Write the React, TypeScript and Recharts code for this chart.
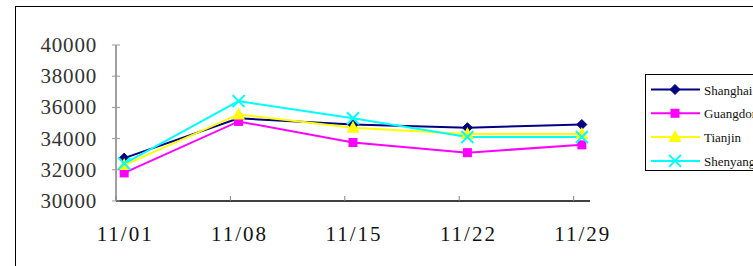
import { LineChart, Line, XAxis, YAxis } from "recharts";

const dates = ["11/01", "11/08", "11/15", "11/22", "11/29"];
// day offsets inside a 29-day date axis (points sit at the middle of each day)
const dayPos = [0.5, 7.5, 14.5, 21.5, 28.5];
const shanghai = [32750, 35300, 34900, 34700, 34900];
const guangdong = [31800, 35100, 33750, 33100, 33600];
const tianjin = [32300, 35550, 34700, 34300, 34300];
const shenyang = [32400, 36400, 35300, 34100, 34100];
const yTicks = [30000, 32000, 34000, 36000, 38000, 40000];

const data = dates.map((d, i) => ({
  date: d,
  day: dayPos[i],
  Shanghai: shanghai[i],
  Guangdong: guangdong[i],
  Tianjin: tianjin[i],
  Shenyang: shenyang[i],
}));

const FONT = '"Liberation Serif", "DejaVu Serif", serif';
const HALF_DAY = 474 / 29 / 2;

const Diamond = ({ cx, cy, color }: any) => (
  <polygon points={`${cx},${cy - 5} ${cx + 5},${cy} ${cx},${cy + 5} ${cx - 5},${cy}`} fill={color} stroke={color} />
);
const Square = ({ cx, cy, color }: any) => (
  <rect x={cx - 4.5} y={cy - 4.5} width={9} height={9} fill={color} />
);
const Triangle = ({ cx, cy, color }: any) => (
  <polygon points={`${cx},${cy - 7} ${cx + 6.5},${cy + 5} ${cx - 6.5},${cy + 5}`} fill={color} />
);
const Cross = ({ cx, cy, color }: any) => (
  <g stroke={color} strokeWidth={2}>
    <line x1={cx - 6} y1={cy - 6} x2={cx + 6} y2={cy + 6} />
    <line x1={cx - 6} y1={cy + 6} x2={cx + 6} y2={cy - 6} />
  </g>
);

const series = [
  { key: "Shanghai", color: "#000080", Marker: Diamond },
  { key: "Guangdong", color: "#FF00FF", Marker: Square },
  { key: "Tianjin", color: "#FFFF00", Marker: Triangle },
  { key: "Shenyang", color: "#00FFFF", Marker: Cross },
];

function DateTick({ x, y, index }: any) {
  return (
    <g>
      <line x1={x - HALF_DAY} y1={y - 5} x2={x - HALF_DAY} y2={y} stroke="#808080" strokeWidth={1} />
      <text x={x + 1} y={y + 40} textAnchor="middle" fontSize={21} letterSpacing={2} fill="#111" fontFamily={FONT}>
        {dates[index]}
      </text>
    </g>
  );
}

function ValueTick({ x, y, payload }: any) {
  return (
    <g>
      <line x1={116 - 4} y1={y} x2={116 + 4} y2={y} stroke="#999" strokeWidth={1} />
      <text x={x} y={y + 7} textAnchor="end" fontSize={21} letterSpacing={0.8} fill="#333" fontFamily={FONT}>
        {payload.value}
      </text>
    </g>
  );
}

function LegendBox() {
  return (
    <svg width={110} height={98} style={{ position: "absolute", left: 645, top: 74, overflow: "visible" }}>
      <rect x={0.5} y={0.5} width={130} height={96} fill="#fff" stroke="#000" strokeWidth={1} />
      {series.map((s, i) => {
        const cy = 15.5 + i * 23.8;
        return (
          <g key={s.key}>
            <line x1={6} y1={cy} x2={55} y2={cy} stroke={s.color} strokeWidth={2} />
            <s.Marker cx={30} cy={cy} color={s.color} />
            <text x={59} y={cy + 5} fontSize={13} fill="#111" fontFamily={FONT}>
              {s.key}
            </text>
          </g>
        );
      })}
    </svg>
  );
}

export default function App() {
  return (
    <div style={{ position: "absolute", left: 0, top: 0, width: 753, height: 266, overflow: "hidden", background: "#fff", fontFamily: FONT }}>
      <div style={{ position: "absolute", left: 15, top: 6, width: 800, height: 300, borderLeft: "1.5px solid #000", borderTop: "1.5px solid #000" }} />
      <LineChart width={753} height={266} data={data} margin={{ top: 45, right: 163, bottom: 0, left: 0 }}>
        <XAxis
          dataKey="day"
          type="number"
          domain={[0, 29]}
          ticks={dayPos}
          interval={0}
          tick={<DateTick />}
          tickLine={false}
          tickSize={0}
          tickMargin={0}
          height={65}
          axisLine={{ stroke: "#000", strokeWidth: 1.5 }}
          allowDataOverflow
        />
        <YAxis
          domain={[30000, 40000]}
          ticks={yTicks}
          interval={0}
          width={116}
          tickLine={false}
          tickSize={0}
          tickMargin={19}
          axisLine={{ stroke: "#808080", strokeWidth: 1.5 }}
          tick={<ValueTick />}
        />
        {series.map((s) => (
          <Line
            key={s.key}
            dataKey={s.key}
            type="linear"
            stroke={s.color}
            strokeWidth={2}
            isAnimationActive={false}
            dot={(p: any) => <s.Marker key={p.index} cx={p.cx} cy={p.cy} color={s.color} />}
            activeDot={false}
          />
        ))}
      </LineChart>
      <LegendBox />
    </div>
  );
}
